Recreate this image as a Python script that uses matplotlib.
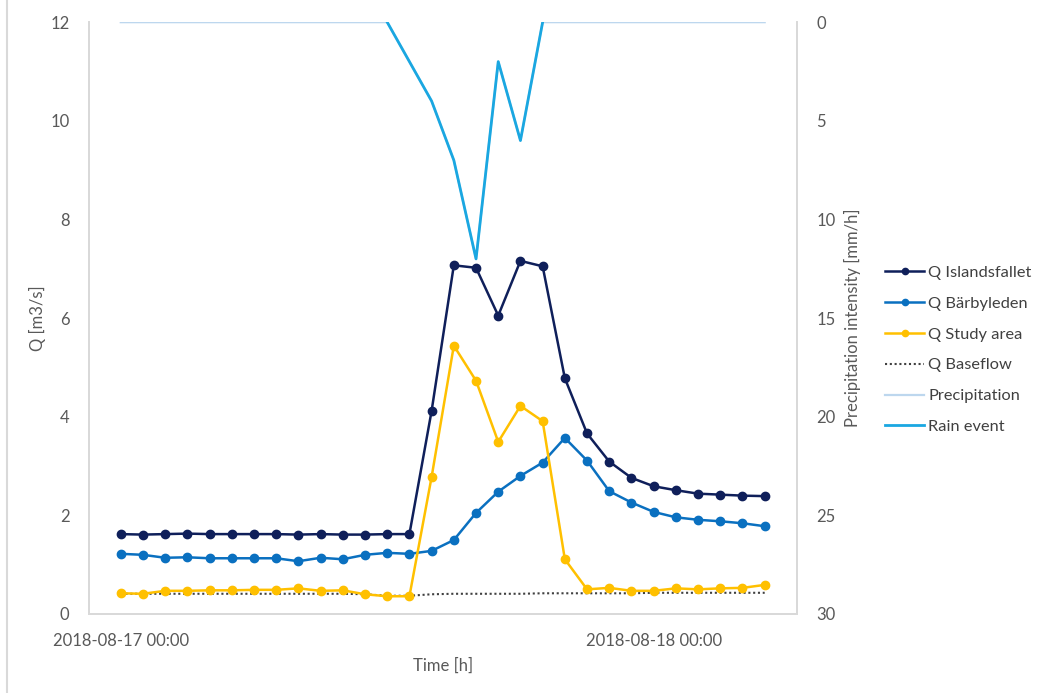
#!/usr/bin/env python3

import numpy as np
from matplotlib import pyplot as plt
from matplotlib.lines import Line2D

# hourly samples, hours since 2018-08-17 00:00
hours = list(range(30))

q_islandsfallet = [1.62, 1.61, 1.62, 1.63, 1.62, 1.62, 1.62, 1.62, 1.61, 1.62,
                   1.61, 1.61, 1.62, 1.62, 4.12, 7.07, 7.02, 6.05, 7.16, 7.05,
                   4.78, 3.66, 3.09, 2.76, 2.59, 2.51, 2.44, 2.42, 2.40, 2.39]
q_barbyleden = [1.22, 1.20, 1.14, 1.15, 1.13, 1.13, 1.13, 1.13, 1.07, 1.14,
                1.11, 1.20, 1.24, 1.22, 1.28, 1.50, 2.05, 2.48, 2.80, 3.07,
                3.57, 3.11, 2.49, 2.26, 2.07, 1.96, 1.91, 1.88, 1.84, 1.78]
q_study_area = [0.42, 0.41, 0.47, 0.47, 0.48, 0.48, 0.49, 0.49, 0.52, 0.47,
                0.48, 0.40, 0.36, 0.36, 2.78, 5.44, 4.73, 3.49, 4.22, 3.91,
                1.11, 0.50, 0.53, 0.47, 0.47, 0.52, 0.50, 0.52, 0.53, 0.59]
q_baseflow = [0.41, 0.41, 0.41, 0.41, 0.41, 0.41, 0.41, 0.41, 0.41, 0.41,
              0.41, 0.40, 0.37, 0.37, 0.40, 0.41, 0.41, 0.41, 0.41, 0.42,
              0.42, 0.42, 0.42, 0.42, 0.43, 0.43, 0.43, 0.43, 0.43, 0.43]
precipitation = [0, 0, 0, 0, 0, 0, 0, 0, 0, 0,
                 0, 0, 0, 2, 4, 7, 12, 2, 6, 0,
                 0, 0, 0, 0, 0, 0, 0, 0, 0, 0]
rain_hours = [12, 13, 14, 15, 16, 17, 18, 19]
rain_event = [0, 2, 4, 7, 12, 2, 6, 0]

tick_hours = [0, 24]
tick_labels = ["2018-08-17 00:00", "2018-08-18 00:00"]

text_color = "#595959"
axis_color = "#D9D9D9"

plt.rcParams["font.family"] = ["Lato", "DejaVu Sans"]
plt.rcParams["font.size"] = 12

fig = plt.figure(figsize=(10.41, 6.93), dpi=100)
ax = fig.add_axes([0.0855, 0.114, 0.68, 0.854])

ax.plot(hours, q_islandsfallet, color="#0F1F5A", marker="o", markersize=6,
        linewidth=1.8, label="Q Islandsfallet", zorder=4)
ax.plot(hours, q_barbyleden, color="#0A70C0", marker="o", markersize=6,
        linewidth=1.8, label="Q Bärbyleden", zorder=3)
ax.plot(hours, q_study_area, color="#FFC000", marker="o", markersize=6,
        linewidth=1.8, label="Q Study area", zorder=3)
ax.plot(hours, q_baseflow, color="#404040", linestyle=(0, (1, 1.3)),
        linewidth=1.5, label="Q Baseflow", zorder=2)

ax.set_xlim(-1.43, 30.45)
ax.set_ylim(0, 12)
ax.set_yticks(np.arange(0, 13, 2))
ax.set_xticks(tick_hours)
ax.set_xticklabels(tick_labels)
ax.set_xlabel("Time [h]", color=text_color, labelpad=6)
ax.set_ylabel("Q [m3/s]", color=text_color, labelpad=3)
ax.tick_params(axis="both", length=0, colors=text_color, labelsize=12)
ax.tick_params(axis="y", pad=14)
ax.tick_params(axis="x", pad=14)

# secondary axis, inverted precipitation
ax2 = ax.twinx()
ax2.plot(hours, precipitation, color="#BDD7EE", linewidth=1.6,
         label="Precipitation", zorder=2)
ax2.plot(rain_hours, rain_event, color="#1AA7E1", linewidth=2.0,
         label="Rain event", zorder=3)
ax2.set_ylim(30, 0)
ax2.set_yticks(np.arange(0, 31, 5))
ax2.set_ylabel("Precipitation intensity [mm/h]", color=text_color, labelpad=6)
ax2.tick_params(axis="y", length=0, colors=text_color, labelsize=12, pad=14)

for a in (ax, ax2):
    a.spines["top"].set_visible(False)
    for side in ("left", "right", "bottom"):
        a.spines[side].set_color(axis_color)
        a.spines[side].set_linewidth(1.3)
    a.patch.set_visible(False)

lines1, labels1 = ax.get_legend_handles_labels()
lines2, labels2 = ax2.get_legend_handles_labels()
leg = fig.legend(lines1 + lines2, labels1 + labels2, loc="upper left",
                 bbox_to_anchor=(0.850, 0.617), frameon=False,
                 borderpad=0, borderaxespad=0,
                 handlelength=2.4, handletextpad=0.25, labelspacing=1.0,
                 fontsize=11.8, markerscale=0.75)
for t in leg.get_texts():
    t.set_color("#404040")

# chart border on the left edge
fig.add_artist(Line2D([0.0068, 0.0068], [0.0, 1.0], color=axis_color,
                      linewidth=1.5, transform=fig.transFigure))

fig.savefig("out.png", dpi=100)
